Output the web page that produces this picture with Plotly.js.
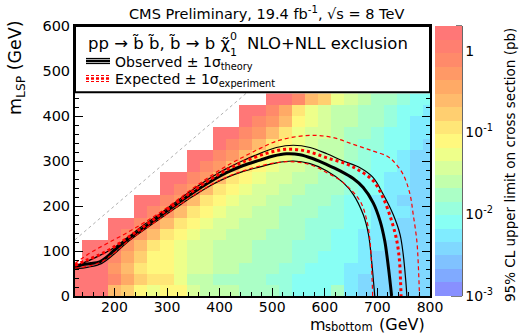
<!DOCTYPE html>
<html><head><meta charset="utf-8">
<script src="https://cdn.plot.ly/plotly-3.0.1.min.js"></script>
<style>html,body{margin:0;padding:0;background:#fff}</style>
</head><body><div id="chart" style="width:526px;height:335px"></div>
<script>
// ---- data: bin centres ----
const mSbottom = [125,150,175,200,225,250,275,300,325,350,375,400,425,450,475,500,525,550,575,600,625,650,675,700,725,750,775,800];
const mLSP = [12.5,37.5,62.5,87.5,112.5,137.5,162.5,187.5,212.5,237.5,262.5,287.5,312.5,337.5,362.5,387.5,412.5,437.5];
const _ = null;
// 95% CL upper limit (pb), one array per m_LSP row
const lim00 = [1.7,1.7,1.7,0.25,0.17,0.08,0.055,0.08,0.08,0.037,0.026,0.026,0.026,0.0175,0.0175,0.0175,0.012,0.0081,0.0081,0.0081,0.0175,0.0056,0.0038,0.0038,0.0038,0.0038,0.0038,0.0038];
const lim01 = [1.8,1.7,1.6,0.79,0.37,0.17,0.12,0.12,0.055,0.026,0.026,0.0175,0.0175,0.0175,0.0175,0.012,0.012,0.0081,0.0081,0.0081,0.0081,0.0056,0.0038,0.0038,0.0038,0.0038,0.0038,0.0038];
const lim02 = [1.9,1.7,1.6,0.54,0.25,0.12,0.08,0.08,0.055,0.037,0.037,0.026,0.026,0.0175,0.0175,0.0175,0.012,0.012,0.0081,0.0081,0.0081,0.0056,0.0056,0.0038,0.0038,0.0038,0.0038,0.0038];
const lim03 = [_,1.8,1.7,0.79,0.37,0.17,0.08,0.08,0.055,0.037,0.037,0.026,0.026,0.026,0.0175,0.0175,0.0175,0.012,0.012,0.0081,0.0081,0.0081,0.0056,0.0038,0.0038,0.0038,0.0038,0.0038];
const lim04 = [_,2.0,1.8,1.15,0.54,0.25,0.12,0.08,0.055,0.037,0.037,0.026,0.026,0.026,0.0175,0.0175,0.0175,0.012,0.012,0.012,0.0081,0.0081,0.0056,0.0056,0.0038,0.0038,0.0038,0.0038];
const lim05 = [_,_,_,1.7,0.79,0.54,0.25,0.12,0.08,0.055,0.037,0.037,0.026,0.026,0.026,0.0175,0.0175,0.0175,0.012,0.012,0.0081,0.0081,0.0056,0.0056,0.0056,0.0038,0.0038,0.0038];
const lim06 = [_,_,_,2.0,1.7,0.79,0.54,0.25,0.12,0.08,0.055,0.037,0.037,0.026,0.026,0.026,0.0175,0.0175,0.012,0.012,0.012,0.0081,0.0081,0.0056,0.0056,0.0038,0.0038,0.0038];
const lim07 = [_,_,_,_,_,1.7,0.79,0.54,0.25,0.12,0.08,0.055,0.037,0.037,0.026,0.026,0.0175,0.0175,0.0175,0.012,0.012,0.0081,0.0081,0.0056,0.0056,0.0056,0.0038,0.0038];
const lim08 = [_,_,_,_,_,2.0,1.7,0.79,0.54,0.25,0.12,0.08,0.055,0.037,0.037,0.026,0.026,0.0175,0.0175,0.0175,0.012,0.0081,0.0081,0.0056,0.0056,0.0038,0.0038,0.0038];
const lim09 = [_,_,_,_,_,_,_,1.7,0.79,0.54,0.25,0.12,0.08,0.055,0.037,0.037,0.026,0.026,0.0175,0.0175,0.0175,0.012,0.0081,0.0081,0.0056,0.0056,0.0038,0.0038];
const lim10 = [_,_,_,_,_,_,_,2.0,1.7,0.79,0.54,0.25,0.12,0.08,0.055,0.037,0.037,0.026,0.026,0.0175,0.0175,0.012,0.0081,0.0081,0.0056,0.0056,0.0038,0.0038];
const lim11 = [_,_,_,_,_,_,_,_,_,1.7,0.79,0.54,0.25,0.12,0.08,0.055,0.037,0.037,0.026,0.026,0.0175,0.012,0.012,0.0081,0.0081,0.0056,0.0038,0.0038];
const lim12 = [_,_,_,_,_,_,_,_,_,2.0,1.7,0.79,0.54,0.25,0.12,0.08,0.055,0.037,0.037,0.026,0.026,0.0175,0.012,0.0081,0.0081,0.0056,0.0038,0.0038];
const lim13 = [_,_,_,_,_,_,_,_,_,_,_,1.7,0.79,0.54,0.25,0.12,0.08,0.055,0.037,0.026,0.026,0.0175,0.012,0.012,0.0081,0.0081,0.0056,0.0038];
const lim14 = [_,_,_,_,_,_,_,_,_,_,_,2.0,1.7,0.79,0.54,0.25,0.12,0.055,0.037,0.037,0.026,0.0175,0.0175,0.012,0.0081,0.0081,0.0056,0.0056];
const lim15 = [_,_,_,_,_,_,_,_,_,_,_,_,_,1.7,0.79,0.54,0.25,0.08,0.055,0.037,0.026,0.026,0.0175,0.0175,0.012,0.0081,0.0056,0.0056];
const lim16 = [_,_,_,_,_,_,_,_,_,_,_,_,_,2.0,1.7,0.79,0.37,0.12,0.055,0.037,0.026,0.026,0.0175,0.0175,0.012,0.0081,0.0081,0.0056];
const lim17 = [_,_,_,_,_,_,_,_,_,_,_,_,_,_,_,2.0,1.7,0.79,0.25,0.17,0.055,0.037,0.026,0.0175,0.0175,0.012,0.0081,0.0081];
const limitRows = [lim00,lim01,lim02,lim03,lim04,lim05,lim06,lim07,lim08,lim09,lim10,lim11,lim12,lim13,lim14,lim15,lim16,lim17];

// ---- exclusion contours (GeV) ----
const obsX = [125,140,155,172,185,198,223,255,287,318,350,382,413,445,477,502,527,553,578,604,629,654,673,692,705,714,721,727];
const obsY = [63,70,72,76,86,100,124,151,178,204,230,254,274,290,302,311,316,314,305,292,278,261,241,207,167,122,63,0];
const obsUpX = [125,150,175,200,225,255,287,318,350,382,413,445,477,508,540,572,604,635,667,692,711,730,743,749,754,756];
const obsUpY = [66,78,92,108,130,157,183,210,237,262,283,301,317,330,335,330,316,300,285,263,226,181,137,93,33,0];
const obsDnX = [125,150,175,200,225,255,287,318,350,382,413,445,477,508,540,572,604,635,654,673,683,689,692,695];
const obsDnY = [60,64,72,94,120,146,172,197,222,245,263,277,287,296,300,294,278,252,226,181,137,78,40,0];
const expX = [125,144,165,192,223,255,287,318,350,382,413,445,489,527,565,604,642,667,692,711,727,737,742,744,745];
const expY = [68,78,88,104,128,154,181,207,234,259,280,298,317,326,322,307,293,278,256,218,167,122,78,33,0];
const expUpX = [125,140,160,188,220,255,287,318,350,382,413,445,477,508,540,578,616,654,692,718,730,749,762,768,775,778,780];
const expUpY = [72,85,100,118,138,162,186,212,240,266,289,309,328,344,353,357,352,337,322,311,300,270,226,182,122,63,0];
const expDnX = [125,150,175,200,225,255,287,318,350,382,413,445,477,508,534,572,604,635,667,680,686,689,691];
const expDnY = [62,66,76,96,121,147,172,198,223,246,264,278,289,296,298.5,292,274,252,211,167,122,63,0];

// ---- colour bar ----
const zLo = -3, zHi = Math.log10(2);
const bandColors = ['#ff7777','#ff7f70','#ff8a6a','#ff9966','#ffaa66','#ffbb6c','#ffcf70','#ffe677','#fff87e','#eeff8a',
                    '#d8ff9c','#c2ffac','#abffc6','#99ffdd','#88fff4','#80ecff','#80d8ff','#80c2ff','#80aaff','#8890ff'];
const cbTickVals = [-3,-2,-1,0];
const cbTickText = ['10<sup>-3</sup>','10<sup>-2</sup>','10<sup>-1</sup>','1'];

const FONT = 'DejaVu Sans';
const L = 75, R = 96, T = 26, B = 39, W = 526, H = 335;
const pw = W - L - R, ph = H - T - B;
const px = p => (p - L) / pw;
const py = p => (H - B - p) / ph;

const nb = bandColors.length;
const cscale = [];
for (let i = 0; i < nb; i++) {
  const c = bandColors[nb - 1 - i];
  cscale.push([i / nb, c]); cscale.push([(i + 1) / nb, c]);
}
const zLog = limitRows.map(r => r.map(v => v == null ? null : Math.log10(v)));

const traces = [{
  type: 'heatmap', x: mSbottom, y: mLSP, z: zLog, zmin: zLo, zmax: zHi, zsmooth: false,
  colorscale: cscale, hoverinfo: 'skip',
  colorbar: {x: px(435), xanchor: 'left', xpad: 0, y: 0, yanchor: 'bottom', ypad: 0, len: 1, lenmode: 'fraction',
    thickness: 27, thicknessmode: 'pixels', outlinewidth: 0, ticks: '',
    tickvals: cbTickVals, ticktext: cbTickText, tickfont: {family: FONT, size: 14, color: '#000'}}
}];
function curve(x, y, color, width, dash) {
  return {type: 'scatter', mode: 'lines', x: x, y: y, hoverinfo: 'skip', showlegend: false,
    line: {color: color, width: width, dash: dash || 'solid', shape: 'spline', smoothing: 1}};
}
traces.push(curve(obsUpX, obsUpY, '#000', 1.2));
traces.push(curve(obsDnX, obsDnY, '#000', 1.2));
traces.push(curve(obsX, obsY, '#000', 3));
traces.push(curve(expUpX, expUpY, '#ff0000', 1.2, '4px,3px'));
traces.push(curve(expDnX, expDnY, '#ff0000', 1.2, '4px,3px'));
traces.push(curve(expX, expY, '#ff0000', 3, '3px,3px'));

const shapes = [];
shapes.push({type: 'line', xref: 'x', yref: 'y', x0: 125, y0: 125, x1: 470, y1: 470,
  line: {color: '#b0b0b0', width: 1, dash: '3px,3px'}});
shapes.push({type: 'rect', xref: 'x', yref: 'y', x0: 125, x1: 800, y0: 453, y1: 600,
  fillcolor: '#fff', line: {color: '#000', width: 2}});
// legend symbols
function hl(x0, x1, y, color, width, dash) {
  shapes.push({type: 'line', xref: 'paper', yref: 'paper', x0: px(x0), x1: px(x1), y0: py(y), y1: py(y),
    line: {color: color, width: width, dash: dash || 'solid'}});
}
hl(86, 110, 58.5, '#000', 1.2); hl(86, 110, 61, '#000', 2.5); hl(86, 110, 63.5, '#000', 1.2);
hl(86, 110, 75.5, '#ff0000', 1.2, '3px,2px'); hl(86, 110, 78.5, '#ff0000', 2.5, '3px,2px'); hl(86, 110, 81.5, '#ff0000', 1.2, '3px,2px');
// colour-bar axis line and ticks
const cbRight = 462;
shapes.push({type: 'line', xref: 'paper', yref: 'paper', x0: px(cbRight), x1: px(cbRight), y0: 0, y1: 1,
  line: {color: '#000', width: 1.2}});
const cy = v => (v - zLo) / (zHi - zLo);
for (let d = -3; d <= 0; d++) {
  for (let m = 1; m <= 9; m++) {
    const v = d + Math.log10(m);
    if (v > zHi + 1e-9) continue;
    const len = m === 1 ? 11 : 6;
    shapes.push({type: 'line', xref: 'paper', yref: 'paper', x0: px(cbRight - len), x1: px(cbRight), y0: cy(v), y1: cy(v),
      line: {color: '#000', width: 1}});
  }
}

const ann = [];
function A(text, x, y, size, opts) {
  ann.push(Object.assign({text: text, x: px(x), y: py(y), xref: 'paper', yref: 'paper', showarrow: false,
    font: {family: FONT, size: size, color: '#000'}, xanchor: 'left', yanchor: 'middle'}, opts || {}));
}
A('CMS Preliminary, 19.4 fb<sup>-1</sup>, \u221As = 8 TeV', 266, 13, 14.5, {xanchor: 'center'});
A('m<sub>LSP</sub> (GeV)', 16, 68, 17.5, {xanchor: 'center', textangle: -90});
// x-axis title in pieces (keeps the subscript from pushing the box up into the tick labels)
A('(GeV)', 426, 335, 16, {xanchor: 'right', yanchor: 'bottom', borderpad: 0});
A('sbottom', 374, 335, 11.5, {xanchor: 'right', yanchor: 'bottom', borderpad: 0});
A('m', 327, 335, 16, {xanchor: 'right', yanchor: 'bottom', borderpad: 0});
A('95% CL upper limit on cross section (pb)', 510, 165, 13.5, {xanchor: 'center', textangle: -90});
A('pp \u2192 b\u0303 b\u0303, b\u0303 \u2192 b \u03C7\u0303', 86, 43, 16.5);
A('0', 229, 36, 11, {borderpad: 0});
A('1', 229, 52, 11, {borderpad: 0});
A('NLO+NLL exclusion', 245, 43, 16.5);
A('Observed \u00B1 1\u03C3<sub>theory</sub>', 113, 63, 14);
A('Expected \u00B1 1\u03C3<sub>experiment</sub>', 113, 80, 14);

const axisCommon = {showline: true, linecolor: '#000', linewidth: 2, mirror: 'allticks', ticks: 'inside', ticklen: 8,
  tickwidth: 1, tickcolor: '#000', showgrid: false, zeroline: false, tickfont: {family: FONT, size: 14.5, color: '#000'},
  minor: {dtick: 20, tick0: 0, ticks: 'inside', ticklen: 4, tickwidth: 1, tickcolor: '#000', showgrid: false}};
const layout = {
  width: W, height: H, margin: {l: L, r: R, t: T, b: B}, paper_bgcolor: '#fff', plot_bgcolor: '#fff',
  showlegend: false,
  xaxis: Object.assign({}, axisCommon, {range: [125, 800], dtick: 100, tick0: 0, ticklabelstandoff: -3,
    tickfont: {family: FONT, size: 14, color: '#000'}}),
  yaxis: Object.assign({}, axisCommon, {range: [0, 600], dtick: 100, tick0: 0}),
  shapes: shapes, annotations: ann
};
Plotly.newPlot('chart', traces, layout, {staticPlot: true, displayModeBar: false});
</script></body></html>
